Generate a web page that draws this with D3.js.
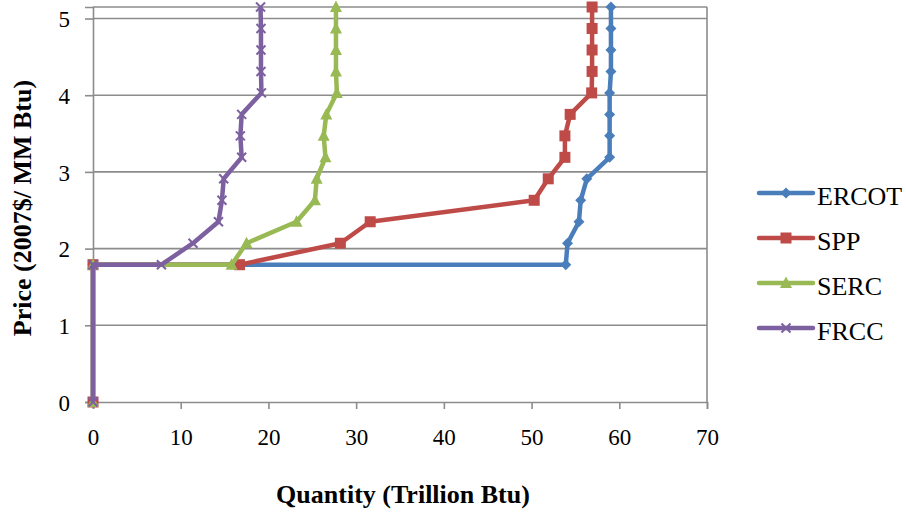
<!DOCTYPE html>
<html>
<head>
<meta charset="utf-8">
<script src="https://cdn.jsdelivr.net/npm/d3@7/dist/d3.min.js"></script>
<style>
  html, body { margin: 0; padding: 0; background: #fff; }
  svg { display: block; }
</style>
</head>
<body>
<svg id="chart" width="906" height="516"></svg>
<script>
// ---- data ----
const seriesNames = ["ERCOT", "SPP", "SERC", "FRCC"];
const prices = [0, 1.79, 1.79, 2.07, 2.35, 2.63, 2.91, 3.19, 3.47, 3.75, 4.03, 4.31, 4.59, 4.87, 5.15];
const ercotQty = [0, 0, 53.9, 54.1, 55.4, 55.6, 56.3, 58.9, 58.9, 58.9, 58.9, 59.05, 59.05, 59.05, 59.05];
const sppQty   = [0, 0, 16.7, 28.2, 31.6, 50.3, 51.9, 53.8, 53.8, 54.4, 56.85, 56.9, 56.9, 56.9, 56.9];
const sercQty  = [0, 0, 15.8, 17.5, 23.2, 25.3, 25.5, 26.5, 26.3, 26.6, 27.8, 27.7, 27.7, 27.7, 27.7];
const frccQty  = [0, 0, 7.8, 11.4, 14.3, 14.7, 14.9, 16.95, 16.8, 16.95, 19.2, 19.15, 19.15, 19.15, 19.1];
const xTicks = [0, 10, 20, 30, 40, 50, 60, 70];
const yTicks = [0, 1, 2, 3, 4, 5];
const xTitle = "Quantity (Trillion Btu)";
const yTitle = "Price (2007$/ MM Btu)";

const colors = ["#4A7EBB", "#BE4B48", "#98B954", "#7D60A0"];
const markers = ["diamond", "square", "triangle", "x"];
const qtys = [ercotQty, sppQty, sercQty, frccQty];

const FONT = "'Liberation Serif', 'Times New Roman', serif";
const svg = d3.select("#chart");
const L = 93, R = 707, T = 7, B = 402;
const x = d3.scaleLinear().domain([0, 70]).range([L, R]);
const y = d3.scaleLinear().domain([0, 5.15]).range([B, T]);
const gridColor = "#8c8c8c";

// gridlines
svg.append("g").selectAll("line").data(yTicks.filter(d => d > 0)).join("line")
  .attr("x1", L).attr("x2", R).attr("y1", d => y(d)).attr("y2", d => y(d))
  .attr("stroke", gridColor).attr("stroke-width", 1.6);

// frame top & right
svg.append("line").attr("x1", L).attr("x2", R).attr("y1", T).attr("y2", T)
  .attr("stroke", gridColor).attr("stroke-width", 1.6);
svg.append("line").attr("x1", R).attr("x2", R).attr("y1", T).attr("y2", B)
  .attr("stroke", gridColor).attr("stroke-width", 1.6);

// axes
const gx = svg.append("g").attr("transform", `translate(0,${B})`)
  .call(d3.axisBottom(x).tickValues(xTicks).tickSize(7).tickPadding(20).tickFormat(d3.format("d")));
const gy = svg.append("g").attr("transform", `translate(${L},0)`)
  .call(d3.axisLeft(y).tickValues(yTicks).tickSize(8).tickPadding(15).tickFormat(d3.format("d")));
[gx, gy].forEach(g => {
  g.attr("font-family", null).attr("font-size", null);
  g.select(".domain").attr("stroke", gridColor).attr("stroke-width", 1.6);
  g.selectAll(".tick line").attr("stroke", gridColor).attr("stroke-width", 1.6);
  g.selectAll(".tick text").attr("font-family", FONT).style("font-family", FONT)
    .style("font-size", "23px").attr("fill", "#000");
});
gy.selectAll(".tick text").attr("dy", "0.36em");
gx.selectAll(".tick text").attr("dy", "0.71em");

// marker drawing
function drawMarker(g, type, color) {
  if (type === "diamond") {
    g.append("path").attr("d", "M0,-5.5L5.5,0L0,5.5L-5.5,0Z").attr("fill", color);
  } else if (type === "square") {
    g.append("rect").attr("x", -5.5).attr("y", -5.5).attr("width", 11).attr("height", 11).attr("fill", color);
  } else if (type === "triangle") {
    g.append("path").attr("d", "M0,-6.5L6,5L-6,5Z").attr("fill", color);
  } else {
    g.append("path").attr("d", "M-4.5,-4.5L4.5,4.5M-4.5,4.5L4.5,-4.5")
      .attr("stroke", color).attr("stroke-width", 2).attr("fill", "none");
  }
}

// series
const line = d3.line().x(d => x(d[0])).y(d => y(d[1]));
seriesNames.forEach((name, i) => {
  const pts = qtys[i].map((q, j) => [q, prices[j]]);
  const g = svg.append("g");
  g.append("path").datum(pts).attr("d", line)
    .attr("fill", "none").attr("stroke", colors[i]).attr("stroke-width", 4.5)
    .attr("stroke-linejoin", "round");
  pts.forEach(p => {
    const m = g.append("g").attr("transform", `translate(${x(p[0])},${y(p[1])})`);
    drawMarker(m, markers[i], colors[i]);
  });
});

// legend
const leg = svg.append("g");
seriesNames.forEach((name, i) => {
  const ly = 193 + i * 45;
  const lg = leg.append("g").attr("transform", `translate(0,${ly})`);
  lg.append("line").attr("x1", 759).attr("x2", 813).attr("y1", 0).attr("y2", 0)
    .attr("stroke", colors[i]).attr("stroke-width", 4.5).attr("stroke-linecap", "round");
  const m = lg.append("g").attr("transform", "translate(786,0)");
  drawMarker(m, markers[i], colors[i]);
  lg.append("text").attr("x", 817).attr("y", 12)
    .style("font-family", FONT).style("font-size", "26px").attr("fill", "#000").text(name);
});

// titles
svg.append("text").attr("x", 403).attr("y", 503).attr("text-anchor", "middle")
  .style("font-family", FONT).style("font-size", "26px").style("font-weight", "bold")
  .attr("fill", "#000").text(xTitle);
svg.append("text").attr("transform", "translate(31,208) rotate(-90)").attr("text-anchor", "middle")
  .style("font-family", FONT).style("font-size", "26px").style("font-weight", "bold")
  .attr("fill", "#000").text(yTitle);
</script>
</body>
</html>
